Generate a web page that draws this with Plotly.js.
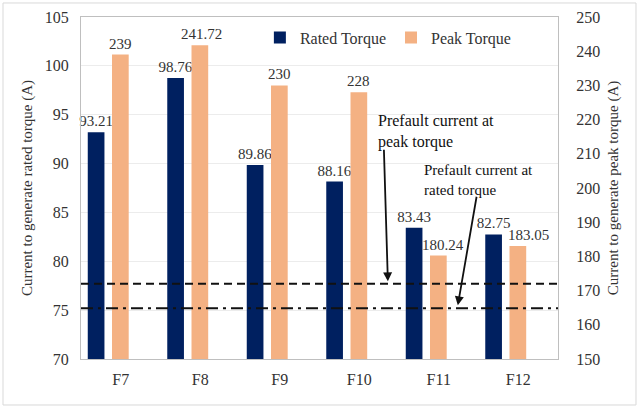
<!DOCTYPE html>
<html>
<head>
<meta charset="utf-8">
<script src="https://cdn.plot.ly/plotly-3.0.1.min.js"></script>
<style>html,body{margin:0;padding:0;background:#fff;}#chart{width:644px;height:409px;}</style>
</head>
<body>
<div id="chart"></div>
<script>
const categories = ['F7', 'F8', 'F9', 'F10', 'F11', 'F12'];
const ratedTorque = [93.21, 98.76, 89.86, 88.16, 83.43, 82.75];
const peakTorque = [239, 241.72, 230, 228, 180.24, 183.05];
const ratedLabels = ['93.21', '98.76', '89.86', '88.16', '83.43', '82.75'];
const peakLabels = ['239', '241.72', '230', '228', '180.24', '183.05'];
const prefaultRated = 75.2;   // left axis
const prefaultPeak = 172;     // right axis

const serif = 'Liberation Serif';
const txt = '#333333';

const traces = [
  {
    type: 'bar', name: 'Rated Torque', x: categories, y: ratedTorque,
    text: ratedLabels, textposition: 'outside', cliponaxis: false, constraintext: 'none',
    textfont: {family: serif, size: 15, color: txt},
    marker: {color: '#002060'}, width: 0.21, offset: -0.415, yaxis: 'y'
  },
  {
    type: 'bar', name: 'Peak Torque', x: categories, y: peakTorque,
    marker: {color: '#F4B183'}, width: 0.21, offset: -0.11, yaxis: 'y2'
  }
];

// peak-torque value labels, placed on the bars via the axes (small rightward nudges for F11/F12 as in the reference)
const peakNudge = [0, 2, 0, 0, 5, 11];
const peakAnns = categories.map((c, i) => ({
  xref: 'x', yref: 'y2', x: c, y: peakTorque[i], xanchor: 'center', yanchor: 'bottom',
  xshift: -0.4 + peakNudge[i], yshift: 1, showarrow: false, text: peakLabels[i],
  font: {family: serif, size: 15, color: txt}
}));

const layout = {
  width: 644, height: 409,
  margin: {l: 81, r: 86, t: 17, b: 50},
  paper_bgcolor: '#ffffff', plot_bgcolor: '#ffffff',
  font: {family: serif, size: 16, color: txt},
  showlegend: true,
  legend: {orientation: 'h', x: 0.375, xanchor: 'left', y: 0.94, yanchor: 'middle',
           font: {family: serif, size: 16, color: txt}, bgcolor: 'rgba(0,0,0,0)', traceorder: 'normal',
           itemwidth: 30},
  xaxis: {type: 'category', showline: true, linecolor: '#bfbfbf', linewidth: 1, mirror: true,
          ticks: '', tickfont: {family: serif, size: 16, color: txt}, showgrid: false, ticklabelstandoff: 6},
  yaxis: {range: [70, 105], dtick: 5, showline: true, linecolor: '#bfbfbf', linewidth: 1,
          gridcolor: '#ececec', zeroline: false, ticks: '', ticklabelstandoff: 8,
          tickfont: {family: serif, size: 16, color: txt},
          title: {text: 'Current to generate rated torque (A)', font: {family: serif, size: 15, color: txt}, standoff: 8}},
  yaxis2: {range: [150, 250], dtick: 10, overlaying: 'y', side: 'right', showline: true,
           linecolor: '#bfbfbf', linewidth: 1, showgrid: false, zeroline: false, ticks: '', ticklabelstandoff: 14,
           tickfont: {family: serif, size: 16, color: txt},
           title: {text: 'Current to generate peak torque (A)', font: {family: serif, size: 15, color: txt}, standoff: 8}},
  shapes: [
    {type: 'line', xref: 'paper', x0: 0, x1: 1, yref: 'y2', y0: prefaultPeak, y1: prefaultPeak,
     line: {color: '#111111', width: 2, dash: '8px,5px'}},
    {type: 'line', xref: 'paper', x0: 0, x1: 1, yref: 'y', y0: prefaultRated, y1: prefaultRated,
     line: {color: '#111111', width: 2, dash: '12px,5px,3px,5px'}},
    {type: 'rect', xref: 'paper', yref: 'paper', x0: -0.1635, x1: 1.1635, y0: -0.1345, y1: 1.041,
     line: {color: '#d9d9d9', width: 1}, fillcolor: 'rgba(0,0,0,0)', layer: 'below'}
  ],
  annotations: peakAnns.concat([
    {xref: 'x', yref: 'y', x: 3.21, y: 95.5, xanchor: 'left', yanchor: 'top', align: 'left',
     text: 'Prefault current at<br>peak torque', showarrow: false,
     font: {family: serif, size: 16, color: '#111111'}},
    {xref: 'x', yref: 'y', x: 3.36, y: 77.95, text: '', showarrow: true, arrowhead: 2, arrowsize: 1,
     arrowwidth: 1.8, arrowcolor: '#111111', ax: -4, ay: -133},
    {xref: 'x', yref: 'y', x: 3.79, y: 90.4, xanchor: 'left', yanchor: 'top', align: 'left',
     text: 'Prefault current at<br>rated torque', showarrow: false,
     font: {family: serif, size: 15, color: '#111111'}},
    {xref: 'x', yref: 'y', x: 4.24, y: 75.5, text: '', showarrow: true, arrowhead: 2, arrowsize: 1,
     arrowwidth: 1.8, arrowcolor: '#111111', ax: 19, ay: -110}
  ])
};

Plotly.newPlot('chart', traces, layout, {displayModeBar: false, staticPlot: true});
</script>
</body>
</html>
